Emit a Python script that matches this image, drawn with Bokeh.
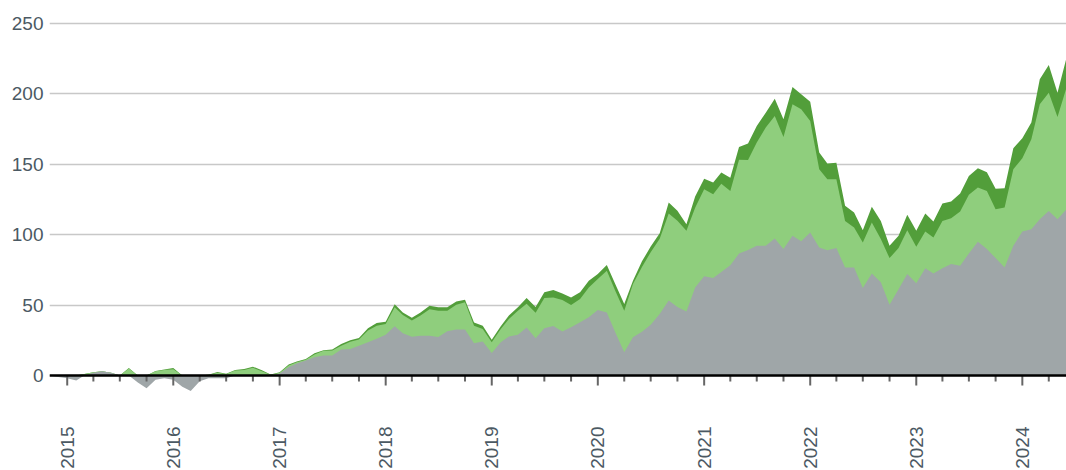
import numpy as np
import pandas as pd
from math import pi
from bokeh.plotting import figure
from bokeh.models import Range1d, FixedTicker
from bokeh.core.properties import value
from bokeh.embed import file_html
from bokeh.resources import INLINE

# ---------------- data (monthly, Nov 2014 .. Jun 2024) ----------------
start_month = "2014-11-01"
end_month = "2024-06-01"

gray = [0, -1, -2, -3.5, 0, 2, 3, 2, 0, 0,
        -5, -9, -3, -2, -3, -8, -11, -4, -2, -2,
        -2, 0, 0, 0, 0, 0, 1.5, 5.9, 8.5, 10.6,
        13, 14.2, 14.2, 18.4, 18.8, 21.2, 23.6, 26, 29, 34.9,
        30, 27.5, 28.3, 28.3, 27.3, 31.4, 32.6, 32.6, 22.9, 24.1,
        16, 23.6, 27.6, 29, 34, 26.5, 33.5, 35.2, 31.2, 34.2,
        37.8, 41.3, 46.5, 44.8, 30.7, 16.5, 27.1, 31, 36, 43.7,
        53.3, 48.6, 45.5, 62.5, 70.5, 69.2, 73.5, 78.3, 86.5, 89,
        92.1, 92.1, 97.3, 89.7, 99.2, 95.2, 101.5, 90.9, 88.8, 90.4,
        76.7, 76.7, 62.1, 72.4, 66.1, 50.3, 61.3, 72, 65.4, 76.2,
        72.4, 76.2, 79.1, 77.9, 86.6, 94.9, 89.7, 83.3, 76.7, 92,
        102.2, 103.8, 110.9, 116.8, 110.9, 118]

light_green = [0, 0, 0, 0, 1, 0.3, 0, 0, 0, 5,
               0, 0, 3, 4, 4.5, 0, 0, 0, 0.5, 2,
               1, 3.5, 4, 5.5, 3, 0.5, 0.5, 1.2, 1, 0.6,
               1.9, 3.3, 3.5, 2.8, 5.2, 4.3, 8.3, 9.4, 7.6, 13.5,
               12.9, 11.5, 14.2, 18.7, 18.7, 14.6, 17.7, 19.3, 12.5, 8.9,
               7.6, 9.4, 12.5, 17, 17, 18, 21.5, 20.1, 22.3, 15.8,
               16.5, 21.2, 21.9, 29.6, 29.5, 29.5, 37.8, 46, 51.5, 53.3,
               61.7, 61.2, 57.2, 56.5, 61.7, 59.5, 62.5, 52.7, 66.6, 64,
               73.2, 83.8, 86.8, 79.6, 93.2, 93.7, 79.1, 55.5, 50.5, 48.9,
               33, 28.3, 32.3, 36.2, 30.7, 33, 29.1, 31.1, 25.9, 26,
               25.5, 33.5, 32.5, 38.5, 41.6, 38.5, 41.3, 34.7, 42.5, 54.3,
               52, 63.9, 81.5, 83.9, 72.6, 86.3]

dark_green = [0, 0, 0, 0, 0, 0, 0, 0, 0, 0.3,
              0, 0, 0.2, 0.3, 0.8, 0, 0, 0, 0, 0.5,
              0.3, 0.5, 0.7, 0.8, 0.7, 0.2, 0.3, 0.7, 0.5, 0.6,
              0.9, 0.5, 0.7, 1.2, 1.1, 1.2, 1.6, 1.9, 1.6, 2.2,
              1.9, 2, 2.3, 2.5, 2.4, 2.4, 2.3, 1.9, 2.3, 2.4,
              1.7, 1.9, 2.4, 2.4, 4, 4.1, 4, 5.3, 4.7, 5.4,
              4.7, 4.8, 3.6, 4, 4.7, 4.7, 2.4, 4, 4, 4,
              7.8, 7.1, 4.6, 8, 7.5, 8.2, 8, 9.3, 9, 11.6,
              11.8, 10.6, 12.3, 12.5, 12.3, 10.6, 13.7, 11.8, 11.2, 11.7,
              10.7, 10.6, 8.7, 11.1, 12.9, 8.7, 8.7, 10.9, 11.4, 12.7,
              11.4, 12.3, 11.8, 12.7, 13.4, 13.6, 13.2, 14.5, 13.7, 14.9,
              14.2, 11.8, 17.8, 19.6, 17.2, 21.2]

year_labels = ["2015", "2016", "2017", "2018", "2019",
               "2020", "2021", "2022", "2023", "2024"]
y_ticks = [0, 50, 100, 150, 200, 250]

# ---------------- derived stacks ----------------
dates = pd.date_range(start_month, end_month, freq="MS")
g = np.array(gray, dtype=float)
lg = np.array(light_green, dtype=float)
dg = np.array(dark_green, dtype=float)
base = np.maximum(g, 0)
light_top = base + lg
dark_top = light_top + dg

year_dates = [pd.Timestamp(f"{y}-01-01") for y in year_labels]
quarters = pd.date_range(year_dates[0], dates[-1], freq="QS")
quarter_dates = [t for t in quarters if t.month != 1]

TEXT_COLOR = "#4b5963"
TICK_COLOR = "#666666"
FONT = "Liberation Sans"

p = figure(width=1066, height=470, output_backend="svg", toolbar_location=None,
           x_axis_location=None, x_axis_type="datetime",
           x_range=Range1d(dates[0], dates[-1]),
           y_range=Range1d(-67.4, 254.75),
           min_border_left=49, min_border_right=0,
           min_border_top=16, min_border_bottom=0)
p.outline_line_color = None
p.xgrid.visible = False

# stacked areas (drawn back to front)
p.varea(x=dates, y1=0, y2=dark_top, fill_color="#529e3a")
p.varea(x=dates, y1=0, y2=light_top, fill_color="#8fce7d")
p.varea(x=dates, y1=0, y2=g, fill_color="#9fa6a8")

# x axis at zero: ticks pointing down, then the black base line
p.ray(x=year_dates, y=0, length=10, length_units="screen", angle=-pi / 2,
      line_color=TICK_COLOR, line_width=2)
p.ray(x=quarter_dates, y=0, length=6, length_units="screen", angle=-pi / 2,
      line_color=TICK_COLOR, line_width=2)
p.hspan(y=[0], line_color="black", line_width=2.5)

# year labels, rotated, below the zero line
p.text(x=year_dates, y=0, text=year_labels, angle=pi / 2, y_offset=51,
       text_align="right", text_baseline="middle",
       text_font=value(FONT), text_font_size="19px", text_color=TEXT_COLOR)

# y axis
p.yaxis.ticker = FixedTicker(ticks=y_ticks)
p.yaxis.axis_line_color = None
p.yaxis.major_tick_line_color = None
p.yaxis.minor_tick_line_color = None
p.yaxis.major_tick_out = 0
p.yaxis.major_tick_in = 0
p.yaxis.minor_tick_out = 0
p.yaxis.minor_tick_in = 0
p.yaxis.major_label_standoff = 6
p.yaxis.major_label_text_font = FONT
p.yaxis.major_label_text_font_size = "19px"
p.yaxis.major_label_text_color = TEXT_COLOR
p.ygrid.ticker = FixedTicker(ticks=y_ticks)
p.ygrid.grid_line_color = "#c8c8c8"
p.ygrid.grid_line_width = 1.5

open("out.html", "w").write(file_html(p, INLINE))
